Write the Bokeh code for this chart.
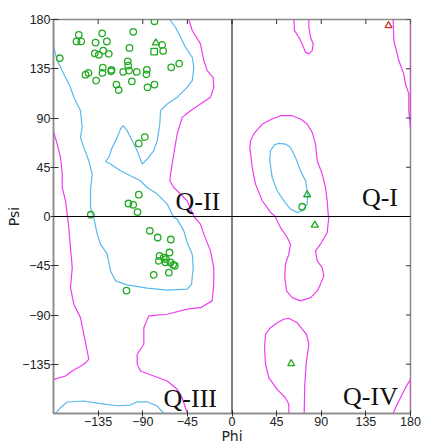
import math
from bokeh.plotting import figure
from bokeh.models import Span, Label, FixedTicker, Range1d
from bokeh.embed import file_html
from bokeh.resources import INLINE

# ---------------- data ----------------
ticks = [-135, -90, -45, 0, 45, 90, 135, 180]

# general-case residues (circles)
circ_phi = [-78.2, -154.5, -156.8, -152.0, -130.9, -99.6, -137.6, -126.2, -129.9, -138.3,
            -134.3, -124.2, -103.4, -70.4, -69.4, -173.6, -105.1, -104.7, -103.7, -53.2,
            -61.3, -147.7, -144.7, -130.3, -130.6, -121.5, -121.8, -137.0, -116.5, -114.2,
            -109.7, -101.0, -96.0, -85.9, -86.2, -85.2, -78.2, -87.9, -94.0, -94.0,
            -104.4, -99.6, -95.3, -142.4,
            -82.9, -74.9, -61.7, -63.0, -73.1, -68.8, -66.5, -73.8, -67.0, -62.0,
            -59.3, -57.7, -63.7, -78.9, -106.4,
            70.8]
circ_psi = [178.4, 166.0, 160.0, 160.0, 167.4, 168.7, 158.9, 160.0, 151.6, 149.1,
            147.7, 148.6, 154.0, 156.8, 151.3, 144.6, 141.8, 137.9, 133.3, 139.7,
            136.3, 129.6, 131.2, 136.0, 131.2, 134.0, 132.7, 124.2, 120.5, 115.6,
            132.1, 123.5, 132.1, 134.0, 129.9, 118.0, 120.5, 72.6, 66.8, 19.9,
            11.9, 10.7, 4.0, 1.6,
            -13.1, -19.2, -21.0, -32.9, -36.0, -37.5, -39.0, -40.5, -42.0, -42.0,
            -44.2, -45.0, -51.2, -53.3, -67.7,
            8.9]

# glycine (triangles)
gly_phi = [-76.8, 75.8, 83.5, 59.7]
gly_psi = [158.7, 19.9, -7.9, -134.5]
# proline (square)
pro_phi = [-78.5]
pro_psi = [150.7]
# outlier (red triangle)
out_phi = [157.8]
out_psi = [174.4]

# favoured-region contours (blue)
blue_main_phi = [-180, -179.7, -176.3, -169.6, -162.9, -159.5, -152.8, -151.1, -152.8, -149.4,
                 -144.4, -141, -142.7, -142.7, -139.4, -135.9, -132.6, -125.8, -122.5, -117.5,
                 -105.7, -85.5, -65.3, -45.2, -40.8, -39.1, -40.1, -45.2, -48.6, -55.3,
                 -58.7, -65.3, -75.4, -85.5, -92.3, -102.4, -112.4, -122.5, -127.6, -124.2,
                 -120.8, -115.8, -112.4, -109.7, -105.7, -100.6, -95.6, -90.6, -85.5, -78.9,
                 -75.4, -72.8, -72.1, -65.3, -55.3, -45.2, -40.1, -38.5, -40.1, -46.9,
                 -51.9, -57, -62.7]
blue_main_psi = [179, 154.6, 142.5, 130.3, 118, 108.9, 96.7, 81.4, 72.3, 63.1,
                 51, 38.8, 23.5, 8.2, -1, -16.1, -25.3, -34.4, -49.7, -58.8,
                 -62.5, -65.5, -67.3, -66.4, -61.9, -46.7, -34.4, -23.8, -13.1, -2.4,
                 -0.9, 11.3, 20.5, 26.5, 32.7, 37.2, 41.8, 47.9, 50.3, 54,
                 63.1, 72.3, 80, 83, 78.4, 69.3, 60.1, 47.9, 52.5, 60.1,
                 69.3, 84.5, 96.7, 102.8, 108.9, 118, 124.2, 136.3, 145.5, 154.6,
                 163.8, 172.9, 180]
blue_bot_phi = [-178, -172.9, -166.2, -149.4, -132.6, -115.8, -102.4, -95.6, -85.5, -75.4, -68.8]
blue_bot_psi = [-180, -174.7, -169.5, -168.6, -171, -172.9, -172.3, -169.3, -169.3, -173.2, -180]
blue_lh_phi = [47.2, 54, 59, 64, 69.1, 74.1, 76.4, 75.8, 70.8, 65.7, 59, 52.2, 45.6, 40.5, 38.1, 38.8, 42.9, 47.2]
blue_lh_psi = [66.8, 66.2, 63.1, 54, 41.8, 32.7, 20.5, 11.3, 5.2, 3.7, 6.8, 14.4, 23.5, 35.7, 51, 60.1, 65.6, 66.8]

# allowed-region contours (magenta)
mag_a_phi = [-43.6, -40.1, -31.8, -28.4, -25, -19, -18.4, -21.7, -31.8, -41.8,
             -50.2, -55.3, -58.7, -62, -62.7, -58.7, -51.9, -45.2, -38.5, -31.8,
             -28.4, -21.7, -18.4, -18.4, -20, -31.8, -45.2, -65.3, -83.9, -88.9,
             -88.9, -95.6, -95.6, -92.3, -78.9, -65.3, -55.3, -50.2, -46.9, -45.2]
mag_a_psi = [180, 169.9, 157.7, 142.5, 133.3, 127.2, 118, 108.9, 102.8, 96.7,
             90.6, 75.4, 57.1, 38.8, 32.7, 26.5, 20.5, 14.4, 0, -7,
             -16.1, -31.4, -46.7, -61.8, -77.1, -83.3, -84.7, -89.3, -90.8, -101.6,
             -116.7, -125.9, -135, -141.2, -145.7, -150.3, -157.9, -165.6, -174.7, -180]
mag_b_phi = [-180, -176.3, -172.9, -171.2, -171.2, -167.9, -166.2, -164.6, -162.9, -161.1,
             -162.9, -159.5, -152.8, -149.4, -146, -144.4, -149.4, -161.1, -167.9, -180]
mag_b_psi = [78, 66.2, 54, 38.8, 26.5, 14.4, 2.2, -10.1, -28.4, -46.7,
             -65, -80.1, -92.4, -107.6, -122.9, -130.5, -135, -141.2, -145.7, -148.8]
mag_c_phi = [162.5, 163.2, 168.2, 173.2, 175, 178.3, 178.3, 180, 180]
mag_c_psi = [180, 160.8, 142.5, 130.3, 121.1, 112, 96.7, 80, 180]
mag_d_phi = [180, 180, 175, 169.9, 164.9, 162.6]
mag_d_psi = [-180, -148.8, -156.4, -165.6, -174.7, -180]
mag_e_phi = [62.3, 63, 67.4, 70.8, 74.1, 77.5, 80.9, 81.9, 79.2, 77.5, 77.5]
mag_e_psi = [180, 169.9, 163.8, 157.7, 150, 148.6, 151.6, 157.7, 163.8, 172.9, 180]
mag_f_phi = [22, 30.5, 40.5, 48.9, 60.7, 69.1, 75.8, 80.9, 84.2, 85.9,
             91, 94.3, 96, 97, 97.6, 96, 89.2, 84.2, 85.9, 91,
             92.6, 89.2, 85.9, 79.2, 69.1, 60.7, 55, 53.2, 53.9, 57.3,
             59, 55.7, 48.9, 43.5, 38.8, 30.5, 23.7, 20.4, 18, 18.7, 22]
mag_f_psi = [75.4, 84.5, 89.1, 92.1, 92.1, 89.1, 84.5, 76.9, 66.2, 51,
             38.8, 26.5, 14.4, 2.2, -0.9, -14.6, -25.3, -31.4, -40.5, -46.7,
             -54.3, -61.8, -68, -74.1, -77.1, -74.1, -68, -55.8, -43.6, -34.4,
             -25.3, -19.2, -10.1, 0, 4, 14.4, 29.6, 44.8, 63.1, 69.3, 75.4]
mag_g_phi = [57.3, 57.3, 53.9, 45.6, 37.1, 33.8, 32.8, 33.8, 38.8, 45.6,
             52.2, 57.3, 65.7, 70.8, 75.1, 77.5, 75.1, 73.4, 72.8]
mag_g_psi = [-180, -171.6, -165.6, -157.9, -147.3, -135, -119.9, -107.6, -101.6, -97,
             -93.9, -93, -97, -103, -107.6, -116.7, -132, -153.3, -180]

quadrant_labels = ["Q-I", "Q-II", "Q-III", "Q-IV"]

# ---------------- plot ----------------
BLUE = "#5ab9ee"
MAG = "#f03cf0"
GREEN = "#22aa22"
RED = "#cc3333"
GRAY = "#8a8a8a"
TICKFONT = "Liberation Sans"
LABFONT = "DejaVu Sans"

p = figure(width=426, height=446, output_backend="svg", toolbar_location=None,
           x_range=Range1d(-180, 180), y_range=Range1d(-180, 180),
           min_border_left=53, min_border_right=16, min_border_top=19, min_border_bottom=33,
           x_axis_label="Phi", y_axis_label="Psi")
p.title.visible = False
p.grid.visible = False
p.outline_line_color = GRAY
p.outline_line_width = 1.5
p.background_fill_color = "white"
p.border_fill_color = "white"

for xs, ys in [(blue_main_phi, blue_main_psi), (blue_bot_phi, blue_bot_psi), (blue_lh_phi, blue_lh_psi)]:
    p.line(xs, ys, line_color=BLUE, line_width=1.2)
for xs, ys in [(mag_a_phi, mag_a_psi), (mag_b_phi, mag_b_psi), (mag_c_phi, mag_c_psi),
               (mag_d_phi, mag_d_psi), (mag_e_phi, mag_e_psi), (mag_f_phi, mag_f_psi),
               (mag_g_phi, mag_g_psi)]:
    p.line(xs, ys, line_color=MAG, line_width=1.2)

p.add_layout(Span(location=0, dimension="height", line_color="black", line_width=1))
p.add_layout(Span(location=0, dimension="width", line_color="black", line_width=1))

# tick marks on the top and right frame edges
p.scatter(ticks, [180] * len(ticks), marker="dash", angle=math.pi / 2, size=9,
          line_color="#333333", line_width=1)
p.scatter([180] * len(ticks), ticks, marker="dash", size=9, line_color="#333333", line_width=1)

p.scatter(circ_phi, circ_psi, marker="circle", size=6.5, fill_color=None, line_color=GREEN, line_width=1.3)
p.scatter(gly_phi, gly_psi, marker="triangle", size=7, fill_color=None, line_color=GREEN, line_width=1.3)
p.scatter(pro_phi, pro_psi, marker="square", size=6.5, fill_color=None, line_color=GREEN, line_width=1.3)
p.scatter(out_phi, out_psi, marker="triangle", size=7, fill_color=None, line_color=RED, line_width=1.3)

label_pos = [(131.0, 17.0), (-57.0, 14.0), (-69.0, -166.0), (112.0, -164.5)]
for txt, (lx, ly) in zip(quadrant_labels, label_pos):
    p.add_layout(Label(x=lx, y=ly, text=txt, text_font="Liberation Serif", text_font_size="26px",
                       text_color="#111111", text_baseline="alphabetic", text_align="left"))

# axes
for ax in (p.xaxis[0], p.yaxis[0]):
    ax.ticker = FixedTicker(ticks=ticks)
    ax.minor_tick_line_color = None
    ax.axis_line_color = GRAY
    ax.axis_line_width = 1.5
    ax.major_tick_line_color = "#333333"
    ax.major_label_text_font = TICKFONT
    ax.major_label_text_font_size = "12.5px"
    ax.major_label_text_color = "#222222"
    ax.axis_label_text_font = LABFONT
    ax.axis_label_text_font_size = "14px"
    ax.axis_label_text_font_style = "normal"
    ax.axis_label_text_color = "#222222"

xa = p.xaxis[0]
xa.major_tick_in = 3
xa.major_tick_out = 3
xa.major_label_standoff = 0
xa.axis_label_standoff = -1

ya = p.yaxis[0]
ya.major_tick_in = 5
ya.major_tick_out = 3
ya.major_label_standoff = 0
ya.axis_label_standoff = -3

open("out.html", "w").write(file_html(p, INLINE))
